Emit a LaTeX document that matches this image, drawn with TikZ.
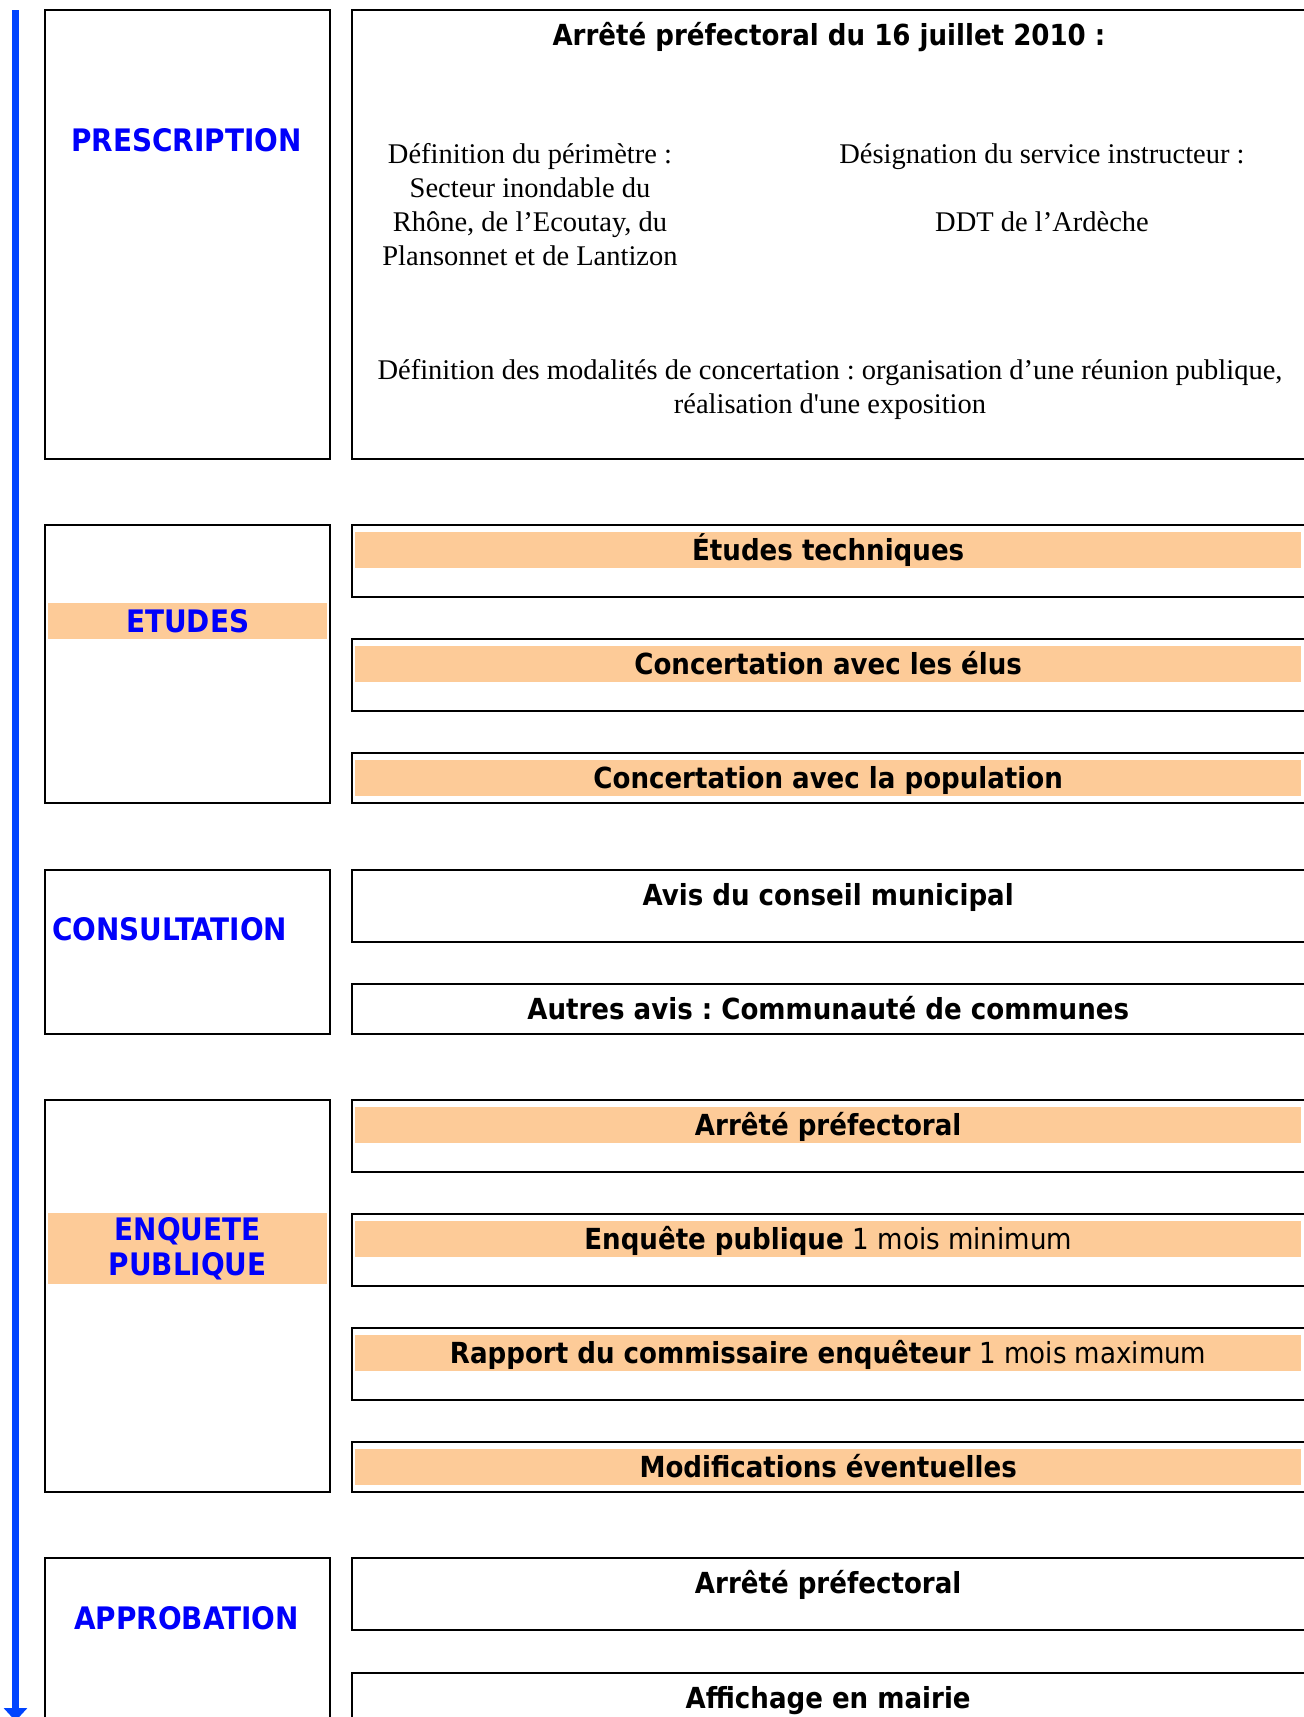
\documentclass[tikz,border=0pt]{standalone}
\usepackage{fontspec}
\setmainfont{Liberation Serif}
\newfontfamily\tahoma{DejaVu Sans Condensed}
\usepackage{xcolor}
\usepackage{tikz}
\usetikzlibrary{arrows.meta,positioning}
\definecolor{bleuphase}{RGB}{0,0,250}
\definecolor{bleufleche}{RGB}{0,68,255}
\definecolor{orangeclair}{RGB}{253,203,152}
\newcommand{\etiq}{\tahoma\bfseries\fontsize{31}{35}\selectfont}
\newcommand{\titre}{\tahoma\bfseries\fontsize{29}{34}\selectfont}
\newcommand{\texte}{\fontsize{28.5}{34}\selectfont}
\frenchspacing
\tikzset{
  cadre/.style={draw, line width=1.5pt, anchor=north west, inner sep=0pt},
  gauche/.style={cadre, minimum width=285pt},
  droite/.style={cadre, minimum width=980pt},
  bande/.style={fill=orangeclair, inner sep=0pt, minimum height=36pt},
  intitule/.style={bande, minimum width=946pt, text height=21pt, text depth=0pt, font=\titre},
  sansfond/.style={intitule, fill=none},
  phase/.style={font=\etiq, text=bleuphase, inner sep=0pt},
  corps/.style={font=\texte, align=center, inner sep=0pt, anchor=base},
  fleche/.style={-{Triangle[width=23pt,length=13pt]}, line width=7pt, draw=bleufleche},
}

\begin{document}
\begin{tikzpicture}[x=1pt, y=-1pt]
\useasboundingbox (0,0) rectangle (1304,1717);

% fleche du temps
\coordinate (debut) at (15.5,10);
\coordinate (fin) at (15.5,1721);
\draw[fleche] (debut) -- (fin);

% prescription
\node[gauche, minimum height=449pt] (presc) at (44,9) {};
\node[phase, anchor=base] (lpresc) at (186.5,151) {PRESCRIPTION};
\node[droite, minimum height=449pt] (arrete) at (351,9) {};
\node[font=\titre, inner sep=0pt, anchor=base] (tarrete) at (829,45) {Arrêté préfectoral du 16 juillet 2010 :};
\node[corps] (perim) at (530,265) {Définition du périmètre :\\Secteur inondable du\\Rhône, de l’Ecoutay, du\\Plansonnet et de Lantizon};
\node[corps] (service) at (1042,163) {Désignation du service instructeur :};
\node[corps] (ddt) at (1042,231) {DDT de l’Ardèche};
\node[corps] (modal) at (830,413) {Définition des modalités de concertation : organisation d’une réunion publique,\\réalisation d\textquotesingle une exposition};

% etudes
\node[gauche, minimum height=278pt] (etudes) at (44,524) {};
\node[bande, minimum width=279pt, font=\etiq, text=bleuphase, below right=79pt and 4pt of etudes.north west] (letudes) {ETUDES};
\node[droite, minimum height=72pt] (tech) at (351,524) {};
\node[intitule, below right=8pt and 4pt of tech.north west] (ttech) {Études techniques};
\node[droite, minimum height=72pt, below=40.5pt of tech] (elus) {};
\node[intitule, below right=8pt and 4pt of elus.north west] (telus) {Concertation avec les élus};
\node[droite, minimum height=50pt, below=40.5pt of elus] (popu) {};
\node[intitule, below right=8pt and 4pt of popu.north west] (tpopu) {Concertation avec la population};

% consultation
\node[gauche, minimum height=164pt] (consult) at (44,869) {};
\node[phase, anchor=base west] (lconsult) at (52,940) {CONSULTATION};
\node[droite, minimum height=72pt] (conseil) at (351,869) {};
\node[sansfond, below right=8pt and 4pt of conseil.north west] (tconseil) {Avis du conseil municipal};
\node[droite, minimum height=50pt, below=40.5pt of conseil] (autres) {};
\node[sansfond, below right=8pt and 4pt of autres.north west] (tautres) {Autres avis : Communauté de communes};

% enquete publique
\node[gauche, minimum height=392pt] (enquete) at (44,1099) {};
\node[bande, minimum width=279pt, minimum height=71pt, font=\etiq, text=bleuphase, align=center, below right=114pt and 4pt of enquete.north west] (lenquete) {ENQUETE\\PUBLIQUE};
\node[droite, minimum height=72pt] (arr) at (351,1099) {};
\node[intitule, below right=8pt and 4pt of arr.north west] (tarr) {Arrêté préfectoral};
\node[droite, minimum height=72pt, below=40.5pt of arr] (enq) {};
\node[intitule, below right=8pt and 4pt of enq.north west] (tenq) {Enquête publique \textmd{1 mois minimum}};
\node[droite, minimum height=72pt, below=40.5pt of enq] (rapport) {};
\node[intitule, below right=8pt and 4pt of rapport.north west] (trapport) {Rapport du commissaire enquêteur \textmd{1 mois maximum}};
\node[droite, minimum height=50pt, below=40.5pt of rapport] (modif) {};
\node[intitule, below right=8pt and 4pt of modif.north west] (tmodif) {Modifications éventuelles};

% approbation
\node[gauche, minimum height=220pt] (approb) at (44,1557) {};
\node[phase, anchor=base] (lapprob) at (186.5,1629) {APPROBATION};
\node[droite, minimum height=72pt] (arrfin) at (351,1557) {};
\node[sansfond, below right=8pt and 4pt of arrfin.north west] (tarrfin) {Arrêté préfectoral};
\node[droite, minimum height=72pt, below=41.5pt of arrfin] (mairie) {};
\node[sansfond, below right=8pt and 4pt of mairie.north west] (tmairie) {Affichage en mairie};
\end{tikzpicture}
\end{document}
